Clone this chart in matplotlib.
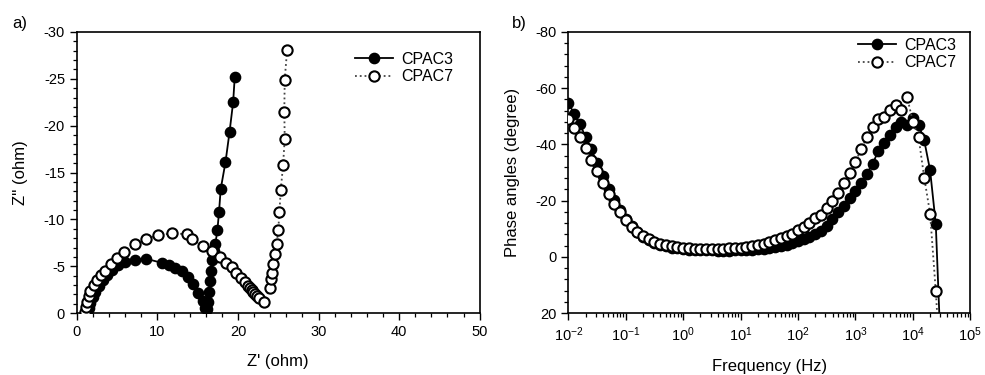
import matplotlib
matplotlib.use("Agg")
import matplotlib.pyplot as plt
from matplotlib.ticker import MultipleLocator, FuncFormatter, LogLocator

plt.rcParams.update(
    {
        "font.family": ["Liberation Sans", "DejaVu Sans"],
        "font.size": 10.5,
        "axes.unicode_minus": False,
        "mathtext.fontset": "custom",
        "mathtext.rm": "Liberation Sans",
        "mathtext.it": "Liberation Sans:italic",
        "axes.linewidth": 1.1,
    }
)

# --- panel a: Nyquist plot (Z' vs Z'') ---
cpac3_zre = [1.3, 1.45, 1.65, 1.95, 2.3, 2.75, 3.25, 3.8, 4.4, 5.1, 6.0, 7.2, 8.6,
             10.6, 11.4, 12.2, 13.0, 13.8, 14.4, 15.0, 15.6, 15.9, 16.1, 16.3, 16.45,
             16.55, 16.65, 16.8, 17.0, 17.2, 17.45, 17.65, 17.85, 18.45, 18.95, 19.4, 19.6]
cpac3_zim = [-0.2, -0.6, -1.1, -1.7, -2.3, -2.9, -3.5, -4.1, -4.6, -5.1, -5.45, -5.7, -5.8,
             -5.35, -5.15, -4.8, -4.45, -3.9, -3.1, -2.2, -1.3, -0.6, -0.4, -1.2, -2.3,
             -3.4, -4.5, -5.7, -6.6, -7.4, -8.9, -10.8, -13.2, -16.1, -19.3, -22.5, -25.2]

cpac7_zre = [1.03, 1.12, 1.24, 1.45, 1.65, 2.07, 2.48, 3.02, 3.5, 4.25, 4.96, 5.9, 7.24,
             8.56, 10.05, 11.8, 13.65, 14.3, 15.6, 16.8, 17.74, 18.57, 19.2, 19.8, 20.4,
             20.9, 21.25, 21.5, 21.7, 21.9, 22.1, 22.35, 22.6, 23.2, 24.0, 24.05, 24.2,
             24.4, 24.6, 24.8, 25.0, 25.15, 25.3, 25.6, 25.8, 25.75, 25.8, 26.1]
cpac7_zim = [-0.14, -0.67, -1.2, -1.8, -2.38, -2.99, -3.52, -4.05, -4.5, -5.23, -5.84, -6.55, -7.36,
             -7.9, -8.32, -8.5, -8.43, -7.9, -7.15, -6.65, -6.0, -5.37, -4.87, -4.3, -3.8,
             -3.34, -2.88, -2.65, -2.45, -2.25, -2.03, -1.8, -1.57, -1.14, -2.7, -3.6, -4.3,
             -5.2, -6.3, -7.4, -8.9, -10.8, -13.1, -15.8, -18.6, -21.5, -24.9, -28.1]

# --- panel b: Bode phase plot ---
freq = [0.01, 0.0126, 0.0158, 0.02, 0.0251, 0.0316, 0.0398, 0.0501, 0.0631, 0.0794,
        0.1, 0.126, 0.158, 0.2, 0.251, 0.316, 0.398, 0.501, 0.631, 0.794,
        1.0, 1.26, 1.58, 2.0, 2.51, 3.16, 3.98, 5.01, 6.31, 7.94,
        10.0, 12.6, 15.8, 20.0, 25.1, 31.6, 39.8, 50.1, 63.1, 79.4,
        100.0, 126.0, 158.0, 200.0, 251.0, 316.0, 398.0, 501.0, 631.0, 794.0,
        1000.0, 1260.0, 1580.0, 2000.0, 2510.0, 3160.0, 3980.0, 5010.0, 6310.0, 7940.0,
        10000.0, 12600.0, 15800.0, 20000.0, 25100.0, 31600.0]

cpac3_phase = [-54.8, -50.9, -47.1, -42.8, -38.2, -33.3, -28.6, -24.3, -20.1, -16.6,
               -13.5, -10.9, -8.8, -7.2, -6.0, -5.0, -4.3, -3.7, -3.3, -3.0,
               -2.8, -2.6, -2.5, -2.4, -2.3, -2.3, -2.2, -2.2, -2.2, -2.3,
               -2.3, -2.4, -2.5, -2.7, -2.9, -3.2, -3.5, -3.9, -4.4, -5.0,
               -5.7, -6.4, -7.2, -8.1, -9.3, -11.0, -13.3, -15.8, -18.2, -21.0,
               -23.4, -26.4, -29.5, -33.2, -37.6, -40.6, -43.5, -46.2, -48.0, -46.8,
               -49.5, -47.0, -41.4, -30.8, -11.8, 40.0]

cpac7_phase = [-48.9, -45.9, -42.8, -38.8, -34.6, -30.5, -26.3, -22.5, -18.9, -15.9,
               -13.1, -10.8, -8.9, -7.4, -6.2, -5.3, -4.6, -4.1, -3.7, -3.4,
               -3.2, -3.0, -2.9, -2.8, -2.8, -2.8, -2.8, -2.9, -3.0, -3.1,
               -3.3, -3.5, -3.8, -4.2, -4.7, -5.3, -5.9, -6.6, -7.4, -8.3,
               -9.4, -10.7, -12.1, -13.7, -15.0, -17.3, -19.7, -22.8, -26.1, -29.8,
               -33.9, -38.2, -42.6, -46.3, -49.0, -49.6, -52.3, -53.9, -52.3, -57.0,
               -48.0, -42.5, -28.2, -15.4, 12.1, 45.0]

MS = 7.4


def style_axes(ax):
    ax.tick_params(which="major", direction="out", length=5, width=1.0, top=False, right=False)
    ax.tick_params(which="minor", direction="out", length=3, width=0.9, top=False, right=False)
    for s in ax.spines.values():
        s.set_linewidth(1.2)


def plain(v, pos):
    return f"{v:.0f}"


fig = plt.figure(figsize=(9.85, 3.75), dpi=100)
ax1 = fig.add_axes([0.078, 0.165, 0.409, 0.75])
ax2 = fig.add_axes([0.577, 0.165, 0.408, 0.75])

ax1.plot(cpac3_zre, cpac3_zim, "-", color="black", lw=1.3, marker="o", ms=MS,
         mfc="black", mec="black", label="CPAC3", zorder=3)
ax1.plot(cpac7_zre, cpac7_zim, ":", color="#444444", lw=1.3, marker="o", ms=MS,
         mfc="white", mec="black", mew=1.5, label="CPAC7", zorder=4)
ax1.set_xlim(0, 50)
ax1.set_ylim(0, -30)
ax1.xaxis.set_major_locator(MultipleLocator(10))
ax1.xaxis.set_minor_locator(MultipleLocator(2))
ax1.yaxis.set_major_locator(MultipleLocator(5))
ax1.yaxis.set_minor_locator(MultipleLocator(1))
ax1.yaxis.set_major_formatter(FuncFormatter(plain))
ax1.set_xlabel("Z' (ohm)", fontsize=12, labelpad=11)
ax1.set_ylabel("Z'' (ohm)", fontsize=12, labelpad=11)
style_axes(ax1)
ax1.legend(loc="upper right", frameon=False, fontsize=11.5, handlelength=2.4,
           handletextpad=0.5, labelspacing=0.15, bbox_to_anchor=(0.97, 0.98))

ax2.plot(freq, cpac3_phase, "-", color="black", lw=1.3, marker="o", ms=MS,
         mfc="black", mec="black", label="CPAC3", zorder=3)
ax2.plot(freq, cpac7_phase, ":", color="#444444", lw=1.3, marker="o", ms=MS,
         mfc="white", mec="black", mew=1.5, label="CPAC7", zorder=4)
ax2.set_xscale("log")
ax2.set_xlim(1e-2, 1e5)
ax2.set_ylim(20, -80)
ax2.xaxis.set_major_locator(LogLocator(base=10, numticks=10))
ax2.xaxis.set_minor_locator(LogLocator(base=10, subs=range(2, 10), numticks=20))
ax2.yaxis.set_major_locator(MultipleLocator(20))
ax2.yaxis.set_minor_locator(MultipleLocator(4))
ax2.yaxis.set_major_formatter(FuncFormatter(plain))
ax2.set_xlabel("Frequency (Hz)", fontsize=12, labelpad=11)
ax2.set_ylabel("Phase angles (degree)", fontsize=12, labelpad=11)
style_axes(ax2)
ax2.legend(loc="upper right", frameon=False, fontsize=11.5, handlelength=2.4,
           handletextpad=0.5, labelspacing=0.15, bbox_to_anchor=(1.0, 1.03))

fig.text(0.012, 0.925, "a)", fontsize=12)
fig.text(0.52, 0.925, "b)", fontsize=12)

fig.savefig("out.png", dpi=100)
